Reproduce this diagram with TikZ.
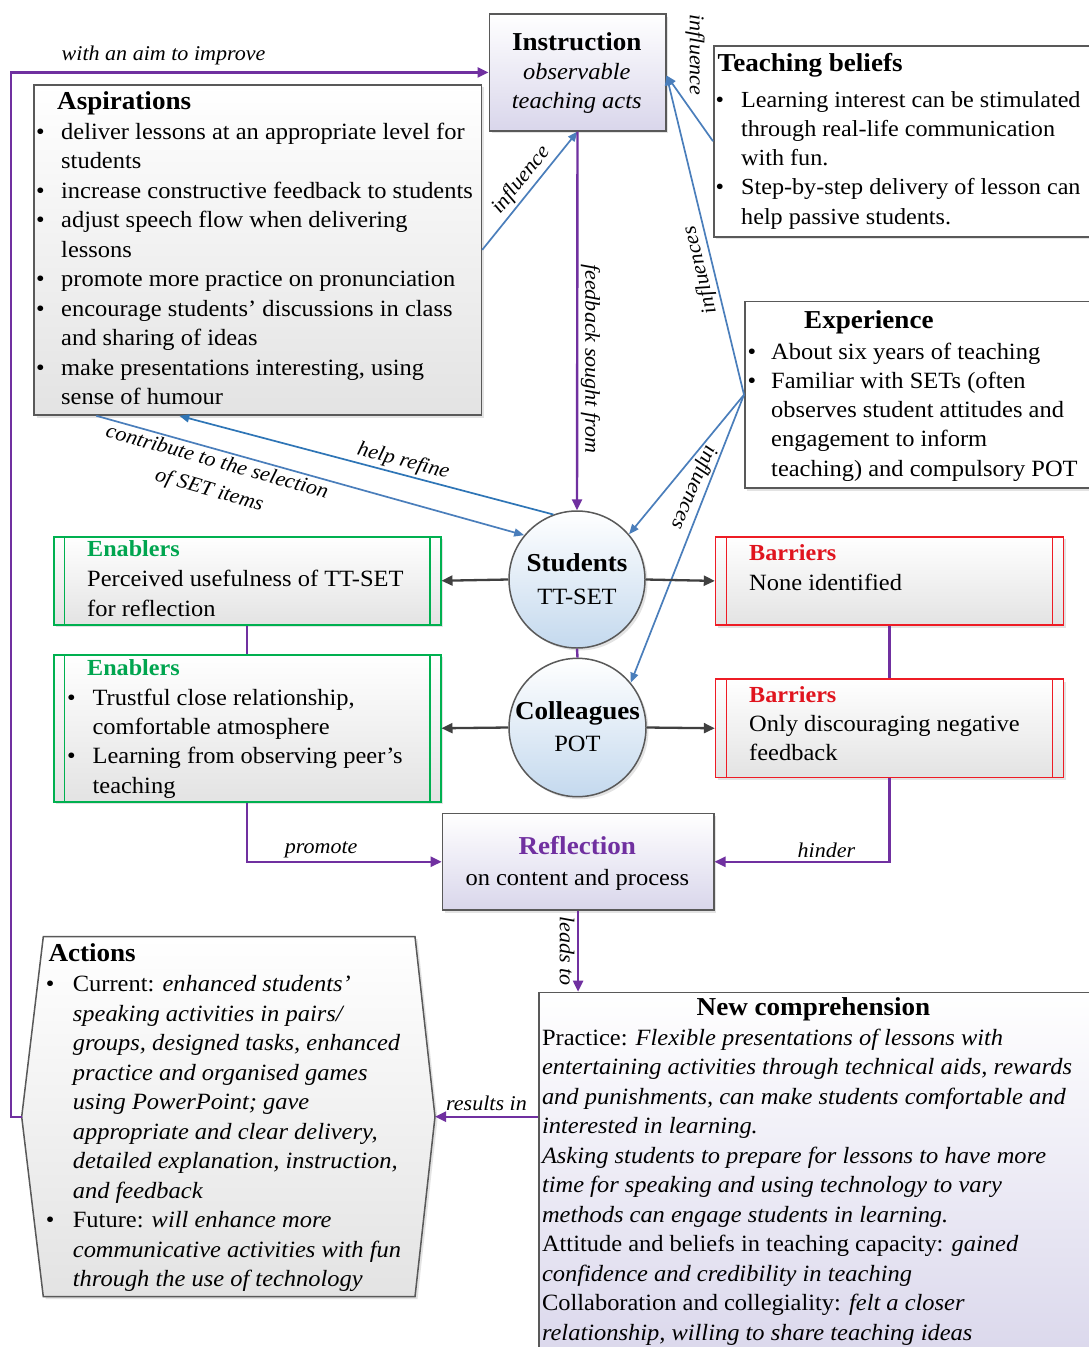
\documentclass[tikz,border=0pt]{standalone}
\usepackage{fontspec}
\setmainfont{Liberation Serif}[FakeStretch=1.05]
\usetikzlibrary{arrows.meta,shapes.geometric,shadows}

\definecolor{purp}{HTML}{7030A0}
\definecolor{steel}{HTML}{4A7EBB}
\definecolor{brightblue}{HTML}{2E75B6}
\definecolor{darkline}{HTML}{404040}
\definecolor{framegray}{HTML}{595959}
\definecolor{grn}{HTML}{00B050}
\definecolor{grntxt}{HTML}{00A54F}
\definecolor{rd}{HTML}{EE1C25}
\definecolor{rdtxt}{HTML}{E0141E}
\definecolor{lav}{HTML}{D9D6EB}
\definecolor{lgray}{HTML}{E3E3E3}
\definecolor{skyfill}{HTML}{C4D9EE}

\newlength\bulw
\newcommand\bitem{\makebox[\bulw][l]{\textbullet}}
\newcommand\bcont{\hspace*{\bulw}}
\newcommand\bodyfs{\fontsize{23.3}{29.5}\selectfont}
\newcommand\headfs{\fontsize{25.8}{30}\selectfont\bfseries}
\newcommand\tagfs{\fontsize{23}{28}\selectfont\bfseries}
\newcommand\labfs{\fontsize{21}{25}\selectfont\itshape}
% left-aligned and centred line stacks whose baseline is the first line
\newenvironment{lstack}{\begin{tabular}[t]{@{}l@{}}}{\end{tabular}}
\newenvironment{cstack}{\begin{tabular}[t]{@{}c@{}}}{\end{tabular}}

\begin{document}
\begin{tikzpicture}[x=1pt,y=-1pt,
  boxbase/.style={rectangle, draw=framegray, line width=1.5pt, inner sep=0pt, anchor=north west},
  softshadow/.style={drop shadow={shadow xshift=2.5pt, shadow yshift=-2.5pt, opacity=.22}},
  plainbox/.style={boxbase, fill=white, softshadow},
  graybox/.style={boxbase, top color=white, bottom color=lgray, softshadow},
  lavbox/.style={boxbase, top color=white, bottom color=lav, softshadow},
  enbox/.style={boxbase, draw=grn, top color=white, bottom color=lgray, softshadow},
  barbox/.style={boxbase, draw=rd, top color=white, bottom color=lgray, softshadow},
  agent/.style={ellipse, draw=framegray, line width=1.5pt, top color=white, bottom color=skyfill, inner sep=0pt, softshadow},
  txt/.style={inner sep=0pt, anchor=base west},
  ctxt/.style={inner sep=0pt, anchor=base},
  purpline/.style={draw=purp, line width=2.4pt},
  purparrow/.style={purpline, -{Triangle[length=11pt,width=10pt]}},
  bluearrow/.style={draw=steel, line width=1.7pt, -{Triangle[length=10pt,width=8pt]}},
  grayarrow/.style={draw=darkline, line width=2.3pt, -{Triangle[length=11pt,width=10pt]}},
  lab/.style={font=\labfs, inner sep=2.5pt},
]
\useasboundingbox (0,0) rectangle (1089,1347);
\fill[white] (0,0) rectangle (1089,1347);

% ---------- boxes ----------
\node[lavbox, minimum width=176.5pt, minimum height=116.7pt] (instr) at (488.5,13.3) {};
\node[plainbox, minimum width=376pt, minimum height=191pt] (tb) at (713,45) {};
\node[graybox, minimum width=447.4pt, minimum height=330.3pt] (asp) at (33.3,84) {};
\node[plainbox, minimum width=345pt, minimum height=186.6pt] (exp) at (744,300.7) {};
\node[enbox, minimum width=387pt, minimum height=88pt] (en1) at (53,536) {};
\node[enbox, minimum width=387pt, minimum height=147pt] (en2) at (53,654) {};
\node[barbox, minimum width=347.7pt, minimum height=88.3pt] (bar1) at (714.8,536) {};
\node[barbox, minimum width=347.7pt, minimum height=98.4pt] (bar2) at (714.8,678.3) {};
\node[lavbox, minimum width=271.3pt, minimum height=96.6pt] (refl) at (441.7,812.7) {};
\node[lavbox, minimum width=552pt, minimum height=380pt] (nc) at (538,991.7) {};
\node[agent, minimum width=136pt, minimum height=137pt] (stud) at (577,579.5) {};
\node[agent, minimum width=137pt, minimum height=138.4pt] (col) at (577.5,727.5) {};

% actions: hexagon with pointed sides
\path[draw=framegray, line width=1.5pt, top color=white, bottom color=lgray, softshadow, line join=miter]
  (43.3,936.7) -- (415,936.7) -- (435,1116.7) -- (415,1296.7) -- (43.3,1296.7) -- (21.7,1116.7) -- cycle;
\coordinate (actW) at (21.7,1116.7);
\coordinate (actE) at (435,1116.7);

% double side rules of the enabler / barrier boxes
\foreach \b/\c in {en1/grn,en2/grn,bar1/rd,bar2/rd}{
  \draw[\c, line width=1.5pt]
    ([xshift=11.5pt]\b.north west) -- ([xshift=11.5pt]\b.south west)
    ([xshift=-11.5pt]\b.north east) -- ([xshift=-11.5pt]\b.south east);
}

% ---------- connectors ----------
\draw[purparrow] (actW) -- ([xshift=-11pt]actW) |- node[lab, above, pos=.66, yshift=4pt] (aim) {with an aim to improve} (instr.west);

\draw[bluearrow] (asp.east) -- node[lab, sloped, above, pos=.52] (infl1) {influence} (instr.south);
\draw[bluearrow] (tb.west) -- ([yshift=-3pt]instr.east);
\node[lab, rotate=-90] (infl2) at (695,55) {influence};
\draw[bluearrow] (exp.west) -- node[lab, rotate=104, anchor=south, pos=.4] (infl3) {influences} ([yshift=-3pt]instr.east);
\draw[bluearrow] (exp.west) -- (stud.41);
\draw[bluearrow] (exp.west) -- node[lab, rotate=-113, anchor=north, pos=.34] (infl4) {influences} (col.40);

\draw[purparrow] (instr.south) -- node[lab, rotate=-90, anchor=south, pos=.6] (fb) {feedback sought from} (stud.north);

\draw[bluearrow] ([xshift=63pt]asp.south west) -- node[lab, sloped, below, pos=.29, align=center, font=\fontsize{21}{29}\selectfont\itshape] (contrib) {contribute to the selection\\of SET items} (stud.140);
\draw[bluearrow, draw=brightblue] (stud.110) -- node[lab, sloped, above, pos=.41] (refine) {help refine} ([xshift=146pt]asp.south west);

\draw[grayarrow] (stud.west) -- (en1.east);
\draw[grayarrow] (stud.east) -- (bar1.west);
\draw[grayarrow] (col.west) -- (en2.east);
\draw[grayarrow] (col.east) -- (bar2.west);

\draw[purpline] (stud.south) -- (col.north);
\draw[purpline] (en1.south) -- (en2.north);
\draw[purpline] (bar1.south) -- (bar2.north);
\draw[purparrow] (en2.south) |- node[lab, above, pos=.69] (prom) {promote} (refl.west);
\draw[purparrow] (bar2.south) |- node[lab, above, pos=.68] (hind) {hinder} (refl.east);
\draw[purparrow] (refl.south) -- node[lab, rotate=-90, anchor=north, pos=.5] (leads) {leads to} (refl.south |- nc.north);
\draw[purparrow] (nc.west |- actE) -- node[lab, above, pos=.5, yshift=2pt] (res) {results in} (actE);

% ---------- texts ----------
\node[ctxt] (instr-t) at (576.75,50) {\fontsize{23.3}{29}\selectfont\begin{cstack}
  {\headfs Instruction}\\ \itshape observable\\ \itshape teaching acts\end{cstack}};

\node[txt] (tb-h) at (717.5,71.7) {\headfs Teaching beliefs};
\node[txt] (tb-b) at (715.5,107.3) {\fontsize{23}{29.2}\selectfont\setlength\bulw{25.5pt}\begin{lstack}
  \bitem Learning interest can be stimulated\\
  \bcont through real-life communication\\
  \bcont with fun.\\
  \bitem Step-by-step delivery of lesson can\\
  \bcont help passive students.\end{lstack}};

\node[txt] (asp-h) at (57,109.3) {\headfs Aspirations};
\node[txt] (asp-b) at (36,139.3) {\bodyfs\setlength\bulw{25pt}\begin{lstack}
  \bitem deliver lessons at an appropriate level for\\
  \bcont students\\
  \bitem increase constructive feedback to students\\
  \bitem adjust speech flow when delivering\\
  \bcont lessons\\
  \bitem promote more practice on pronunciation\\
  \bitem encourage students’ discussions in class\\
  \bcont and sharing of ideas\\
  \bitem make presentations interesting, using\\
  \bcont sense of humour\end{lstack}};

\node[txt] (exp-h) at (804,328) {\headfs Experience};
\node[txt] (exp-b) at (747.5,359) {\fontsize{23.3}{29.3}\selectfont\setlength\bulw{23.5pt}\begin{lstack}
  \bitem About six years of teaching\\
  \bitem Familiar with SETs (often\\
  \bcont observes student attitudes and\\
  \bcont engagement to inform\\
  \bcont teaching) and compulsory POT\end{lstack}};

\node[ctxt] (stud-t) at (577,571.7) {\fontsize{23.3}{32.3}\selectfont\begin{cstack}
  {\headfs Students}\\ TT-SET\end{cstack}};
\node[ctxt] (col-t) at (577.5,719) {\fontsize{23.3}{32}\selectfont\begin{cstack}
  {\headfs Colleagues}\\ POT\end{cstack}};

\node[txt] (en1-h) at (87,556.7) {\tagfs\color{grntxt}Enablers};
\node[txt] (en1-b) at (87,586.7) {\fontsize{23.3}{30}\selectfont\begin{lstack}
  Perceived usefulness of TT-SET\\ for reflection\end{lstack}};

\node[txt] (en2-h) at (87,675) {\tagfs\color{grntxt}Enablers};
\node[txt] (en2-b) at (67,705) {\fontsize{23.3}{29.4}\selectfont\setlength\bulw{25.4pt}\begin{lstack}
  \bitem Trustful close relationship,\\
  \bcont comfortable atmosphere\\
  \bitem Learning from observing peer’s\\
  \bcont teaching\end{lstack}};

\node[txt] (bar1-h) at (749,560) {\tagfs\color{rdtxt}Barriers};
\node[txt] (bar1-b) at (749,590) {\bodyfs None identified};

\node[txt] (bar2-h) at (749,702.7) {\tagfs\color{rdtxt}Barriers};
\node[txt] (bar2-b) at (749,731.7) {\fontsize{23.3}{29}\selectfont\begin{lstack}
  Only discouraging negative\\ feedback\end{lstack}};

\node[ctxt] (refl-t) at (577.3,854.3) {\fontsize{23.3}{30.7}\selectfont\begin{cstack}
  {\headfs\color{purp}Reflection}\\ on content and process\end{cstack}};

\node[txt] (act-h) at (48.3,961.7) {\headfs Actions};
\node[txt] (act-b) at (45.7,991.7) {\bodyfs\setlength\bulw{27pt}\begin{lstack}
  \bitem Current: \textit{enhanced students’}\\
  \bcont \textit{speaking activities in pairs/}\\
  \bcont \textit{groups, designed tasks, enhanced}\\
  \bcont \textit{practice and organised games}\\
  \bcont \textit{using PowerPoint; gave}\\
  \bcont \textit{appropriate and clear delivery,}\\
  \bcont \textit{detailed explanation, instruction,}\\
  \bcont \textit{and feedback}\\
  \bitem Future: \textit{will enhance more}\\
  \bcont \textit{communicative activities with fun}\\
  \bcont \textit{through the use of technology}\end{lstack}};

\node[ctxt] (nc-h) at (813.5,1015) {\headfs New comprehension};
\node[txt] (nc-b) at (541.8,1045) {\bodyfs\begin{lstack}
  Practice: \textit{Flexible presentations of lessons with}\\
  \textit{entertaining activities through technical aids, rewards}\\
  \textit{and punishments, can make students comfortable and}\\
  \textit{interested in learning.}\\
  \textit{Asking students to prepare for lessons to have more}\\
  \textit{time for speaking and using technology to vary}\\
  \textit{methods can engage students in learning.}\\
  Attitude and beliefs in teaching capacity: \textit{gained}\\
  \textit{confidence and credibility in teaching}\\
  Collaboration and collegiality: \textit{felt a closer}\\
  \textit{relationship, willing to share teaching ideas}\end{lstack}};

\end{tikzpicture}
\end{document}
